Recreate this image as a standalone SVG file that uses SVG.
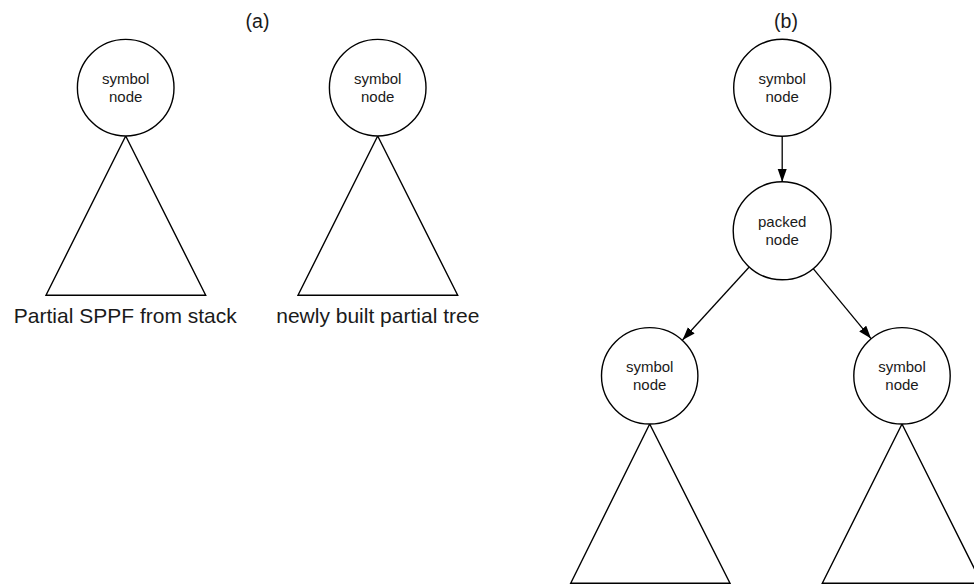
<svg xmlns="http://www.w3.org/2000/svg" width="974" height="585" viewBox="0 0 974 585">
  <style>
    .shape { fill: #ffffff; stroke: #000000; stroke-width: 1.4; }
    .edge { fill: none; stroke: #000000; stroke-width: 1.3; }
    .nodetext { font-family: "Liberation Sans", Arial, Helvetica, sans-serif; font-size: 15px; fill: #1a1a1a; text-anchor: middle; }
    .caption { font-family: "Liberation Sans", Arial, Helvetica, sans-serif; font-size: 21px; fill: #1a1a1a; text-anchor: middle; }
    .panel { font-family: "Liberation Sans", Arial, Helvetica, sans-serif; font-size: 19.5px; fill: #1a1a1a; text-anchor: middle; }
  </style>
  <defs>
    <marker id="arrow" markerUnits="userSpaceOnUse" markerWidth="14" markerHeight="10" refX="13" refY="4.5" orient="auto">
      <path d="M0,0 L13,4.5 L0,9 Z" fill="#000000"/>
    </marker>
  </defs>
  <rect width="974" height="585" fill="#ffffff"/>

  <!-- panel titles -->
  <text class="panel" x="257.5" y="28">(a)</text>
  <text class="panel" x="786" y="28">(b)</text>

  <!-- (a) left: partial SPPF from stack -->
  <g id="a-stack-tree">
    <polygon class="shape" points="125.7,136 46,295.3 205.7,295.3"/>
  </g>
  <g id="a-stack-symbol">
    <circle class="shape" cx="125.7" cy="87.7" r="48.3"/>
    <text class="nodetext" x="125.7" y="83.5">symbol</text>
    <text class="nodetext" x="125.7" y="101.5">node</text>
  </g>
  <text class="caption" x="125.3" y="323.3">Partial SPPF from stack</text>

  <!-- (a) right: newly built partial tree -->
  <g id="a-new-tree">
    <polygon class="shape" points="377.7,136 298,295.3 457.7,295.3"/>
  </g>
  <g id="a-new-symbol">
    <circle class="shape" cx="377.7" cy="87.7" r="48.3"/>
    <text class="nodetext" x="377.7" y="83.5">symbol</text>
    <text class="nodetext" x="377.7" y="101.5">node</text>
  </g>
  <text class="caption" x="377.8" y="323.3">newly built partial tree</text>

  <!-- (b) connectors -->
  <g id="connectors">
    <line class="edge" x1="782.2" y1="136" x2="782.2" y2="182" marker-end="url(#arrow)"/>
    <line class="edge" x1="749" y1="267.2" x2="682.5" y2="340" marker-end="url(#arrow)"/>
    <line class="edge" x1="813.2" y1="268.7" x2="871" y2="338.6" marker-end="url(#arrow)"/>
  </g>

  <!-- (b) nodes -->
  <g id="b-root-symbol">
    <circle class="shape" cx="782.2" cy="87.7" r="48.5"/>
    <text class="nodetext" x="782.2" y="83.5">symbol</text>
    <text class="nodetext" x="782.2" y="101.5">node</text>
  </g>
  <g id="b-packed">
    <circle class="shape" cx="782.2" cy="230.8" r="49"/>
    <text class="nodetext" x="782.2" y="226.5">packed</text>
    <text class="nodetext" x="782.2" y="244.5">node</text>
  </g>
  <g id="b-left-tree">
    <polygon class="shape" points="649.7,424 570.7,583.3 730,583.3"/>
  </g>
  <g id="b-left-symbol">
    <circle class="shape" cx="649.7" cy="375.8" r="48.2"/>
    <text class="nodetext" x="649.7" y="371.7">symbol</text>
    <text class="nodetext" x="649.7" y="389.7">node</text>
  </g>
  <g id="b-right-tree">
    <polygon class="shape" points="902,424 822.3,583.3 981.7,583.3"/>
  </g>
  <g id="b-right-symbol">
    <circle class="shape" cx="902" cy="375.8" r="48.2"/>
    <text class="nodetext" x="902" y="371.7">symbol</text>
    <text class="nodetext" x="902" y="389.7">node</text>
  </g>
</svg>
